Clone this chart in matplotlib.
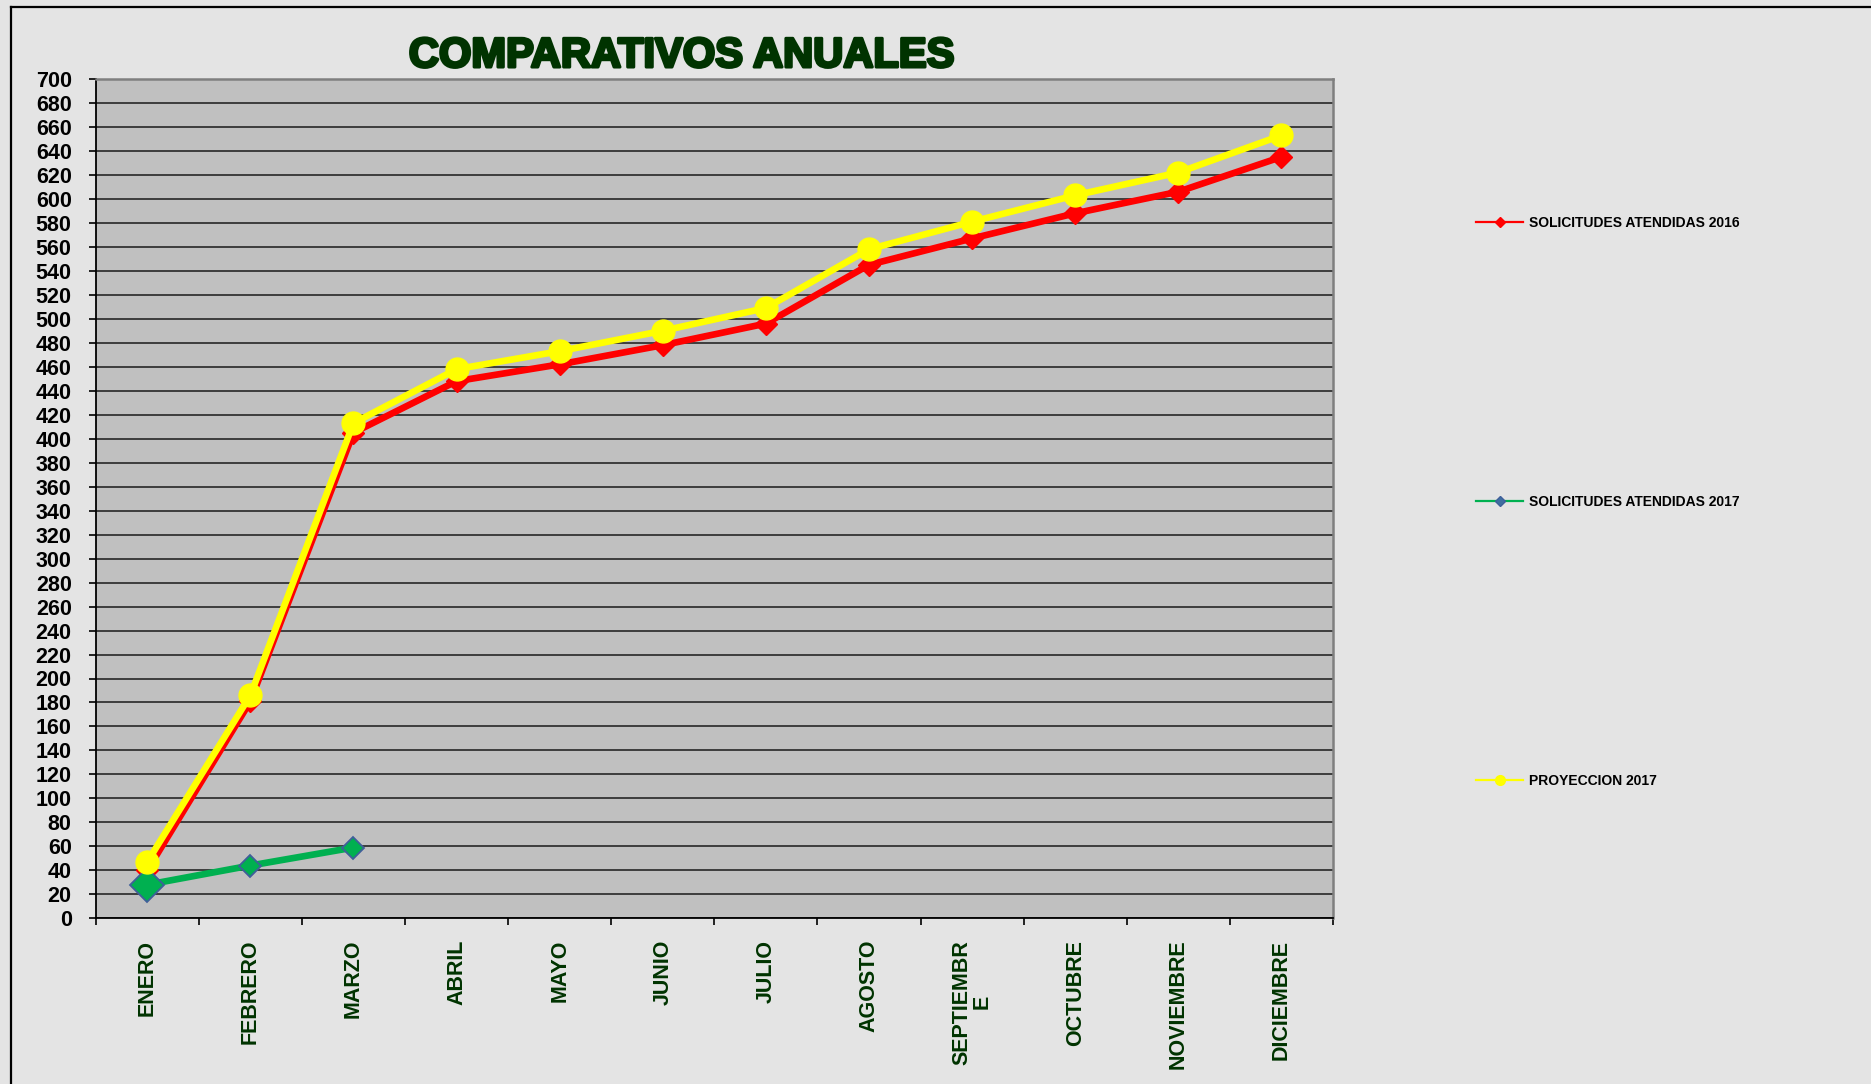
import matplotlib
matplotlib.use("Agg")
import matplotlib.pyplot as plt
import matplotlib.patheffects as pe
from matplotlib.lines import Line2D
from matplotlib.ticker import MultipleLocator, FixedLocator

# ---- data ----
months = ["ENERO", "FEBRERO", "MARZO", "ABRIL", "MAYO", "JUNIO", "JULIO",
          "AGOSTO", "SEPTIEMBR\nE", "OCTUBRE", "NOVIEMBRE", "DICIEMBRE"]
sol_2016 = [40, 181, 405, 448, 462, 478, 496, 545, 567, 588, 606, 635]
sol_2017 = [28, 44, 59]
proy_2017 = [47, 186, 413, 458, 473, 490, 509, 558, 581, 603, 622, 653]
series_labels = ["SOLICITUDES ATENDIDAS 2016", "SOLICITUDES ATENDIDAS 2017",
                 "PROYECCION 2017"]
title = "COMPARATIVOS ANUALES"

plt.rcParams['font.family'] = ['Liberation Sans', 'DejaVu Sans']

W, H = 1871, 1084
fig = plt.figure(figsize=(W / 100, H / 100), dpi=100)
fig.patch.set_facecolor('#e4e4e4')

# axes placement (pixel based)
left, right, top, bottom = 95.7, 1333, 79, 918.3
ax = fig.add_axes([left / W, 1 - bottom / H, (right - left) / W, (bottom - top) / H])
ax.set_facecolor('#c0c0c0')

x = list(range(len(months)))
RED, GREEN, YELLOW = '#ff0000', '#00b050', '#ffff00'

ax.plot(x, sol_2016, color=RED, lw=4.8, marker='D', ms=11, mfc=RED, mec=RED,
        zorder=3, solid_joinstyle='round')
x17 = x[:len(sol_2017)]
ax.plot(x17, sol_2017, color=GREEN, lw=4.8, marker='D', ms=11, mfc=GREEN,
        mec='#3f5f9a', mew=1.3, zorder=4)
ax.plot(x17[:1], sol_2017[:1], ls='none', marker='D', ms=17.5, mfc=GREEN,
        mec='#3f5f9a', mew=1.3, zorder=4)
ax.plot(x, proy_2017, color=YELLOW, lw=4.8, marker='o', ms=16.5, mfc=YELLOW,
        mec=YELLOW, zorder=5, solid_joinstyle='round')

ax.set_xlim(-0.5, len(months) - 0.5)
ax.set_ylim(0, 700)
ax.yaxis.set_major_locator(MultipleLocator(20))
ax.grid(axis='y', color='#333333', lw=1.3, zorder=1)
ax.set_axisbelow(True)

ax.set_xticks(x)
ax.set_xticklabels(months, rotation=90, fontsize=15.5, fontweight='bold',
                   color='#003300', linespacing=1.0)
ax.xaxis.set_minor_locator(FixedLocator([i - 0.5 for i in range(len(months) + 1)]))
ax.tick_params(axis='x', which='major', length=0, pad=15.5)
ax.tick_params(axis='x', which='minor', length=5, width=1.2, color='black', direction='out')
ax.tick_params(axis='y', length=5.3, width=1.2, color='black', direction='out', pad=12,
               labelsize=15.5)
for lab in ax.get_yticklabels():
    lab.set_fontweight('bold')

for s in ['left', 'bottom']:
    ax.spines[s].set_color('black')
    ax.spines[s].set_linewidth(1.3)
for s in ['top', 'right']:
    ax.spines[s].set_color('#7f7f7f')
    ax.spines[s].set_linewidth(1.8)

# title
fig.text(681 / W, 1 - 56 / H, title, ha='center', va='center', fontsize=30,
         fontweight='bold', color='#003300',
         path_effects=[pe.withStroke(linewidth=2.2, foreground='#003300')])

# legend
handles = [
    Line2D([], [], color=RED, lw=1.6, marker='D', ms=5, mfc=RED, mec=RED),
    Line2D([], [], color=GREEN, lw=1.6, marker='D', ms=5.5, mfc='#3f6fa0', mec='#3f5f9a'),
    Line2D([], [], color=YELLOW, lw=1.6, marker='o', ms=7, mfc=YELLOW, mec=YELLOW),
]
fs = 10
em = fs * 100 / 72
leg = fig.legend(handles, series_labels, loc='center left',
                 bbox_to_anchor=(1476 / W, 1 - 502 / H), frameon=False,
                 prop={'size': fs, 'weight': 'bold'},
                 handlelength=47 / em, handletextpad=6 / em,
                 labelspacing=(279 - em * 1.0) / em, borderpad=0, borderaxespad=0)

# outer frame lines (top and left)
fig.add_artist(Line2D([11 / W, 1], [1 - 7 / H, 1 - 7 / H], transform=fig.transFigure,
                      color='black', lw=1.6))
fig.add_artist(Line2D([11 / W, 11 / W], [0, 1 - 7 / H], transform=fig.transFigure,
                      color='black', lw=1.6))

fig.savefig('out.png', dpi=100, facecolor=fig.get_facecolor())
